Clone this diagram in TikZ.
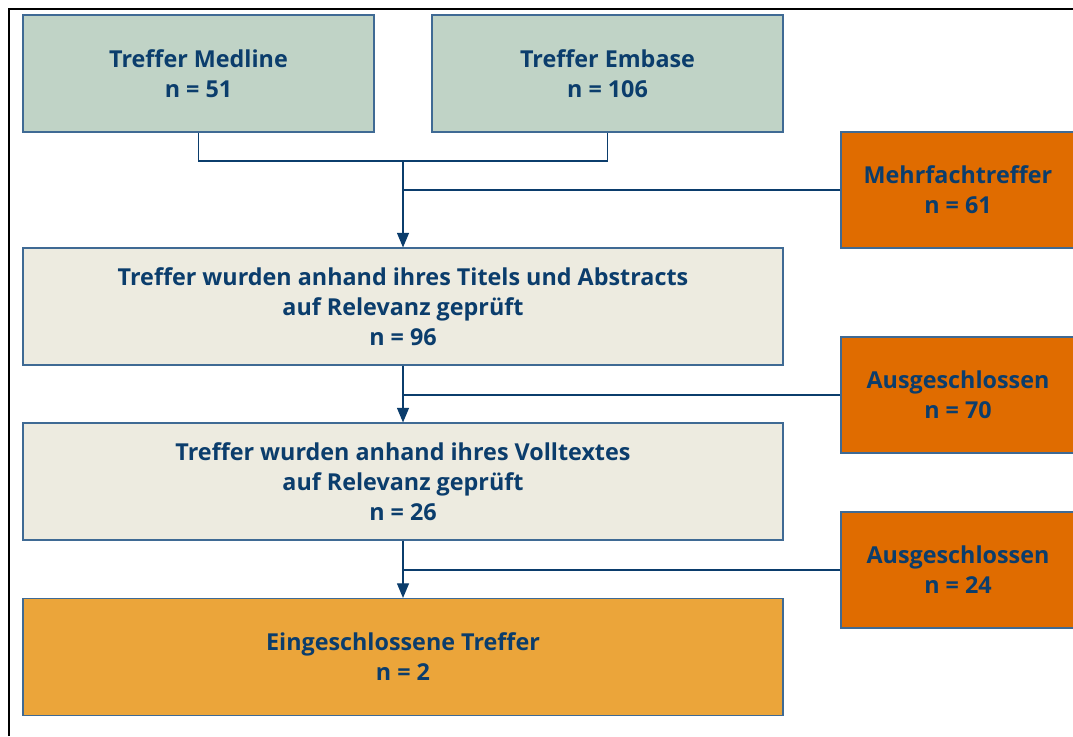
\documentclass[tikz,border=0pt]{standalone}
\usepackage{fontspec}
\setmainfont{Open Sans}
\usepackage{tikz}
\usetikzlibrary{arrows.meta,positioning,calc}
\definecolor{Ink}{HTML}{0B3D6C}
\definecolor{Rim}{HTML}{3F6A94}
\definecolor{Sage}{HTML}{C0D3C6}
\definecolor{Paper}{HTML}{EDEBE0}
\definecolor{Drop}{HTML}{E06C00}
\definecolor{Keep}{HTML}{EBA53A}
\begin{document}
\begin{tikzpicture}[x=0.75pt,y=-0.75pt,>={Triangle[length=11pt,width=9pt]},
  box/.style={draw=Rim,line width=0.8pt,text=Ink,align=center,inner sep=0pt,
    font=\fontsize{17.5}{22.5}\selectfont\bfseries,minimum height=87.75pt},
  link/.style={draw=Ink,line width=1pt}]
\useasboundingbox (0,0) rectangle (1073,736);
\draw[black,line width=1.6pt] (9,736) -- (9,9) -- (1073,9);
% sources
\node[box,fill=Sage,minimum width=263.25pt] (medline) at (198.5,73.5) {Treffer Medline\\n = 51};
\node[box,fill=Sage,minimum width=263.25pt] (embase) at (607.5,73.5) {Treffer Embase\\n = 106};
% screening steps
\node[box,fill=Paper,minimum width=570pt] (abstr) at (403,306.5) {Treffer wurden anhand ihres Titels und Abstracts\\auf Relevanz geprüft\\n = 96};
\node[box,fill=Paper,minimum width=570pt] (volltext) at (403,481.5) {Treffer wurden anhand ihres Volltextes\\auf Relevanz geprüft\\n = 26};
\node[box,fill=Keep,minimum width=570pt] (final) at (403,657) {Eingeschlossene Treffer\\n = 2};
% removed
\node[box,fill=Drop,minimum width=175.5pt,minimum height=87pt] (mehrfach) at (958,190) {Mehrfachtreffer\\n = 61};
\node[box,fill=Drop,minimum width=175.5pt,minimum height=87pt] (aus1) at (958,395) {Ausgeschlossen\\n = 70};
\node[box,fill=Drop,minimum width=175.5pt,minimum height=87pt] (aus2) at (958,570) {Ausgeschlossen\\n = 24};
\coordinate (join) at (403,161);
\draw[link] (medline.south) |- (join);
\draw[link] (embase.south) |- (join);
\draw[link,->] (join) -- (abstr.north);
\draw[link] (mehrfach.west) -- (mehrfach.west -| join);
\draw[link,->] (abstr.south) -- (volltext.north);
\draw[link] (aus1.west) -- (aus1.west -| abstr.south);
\draw[link,->] (volltext.south) -- (final.north);
\draw[link] (aus2.west) -- (aus2.west -| volltext.south);
\end{tikzpicture}
\end{document}
